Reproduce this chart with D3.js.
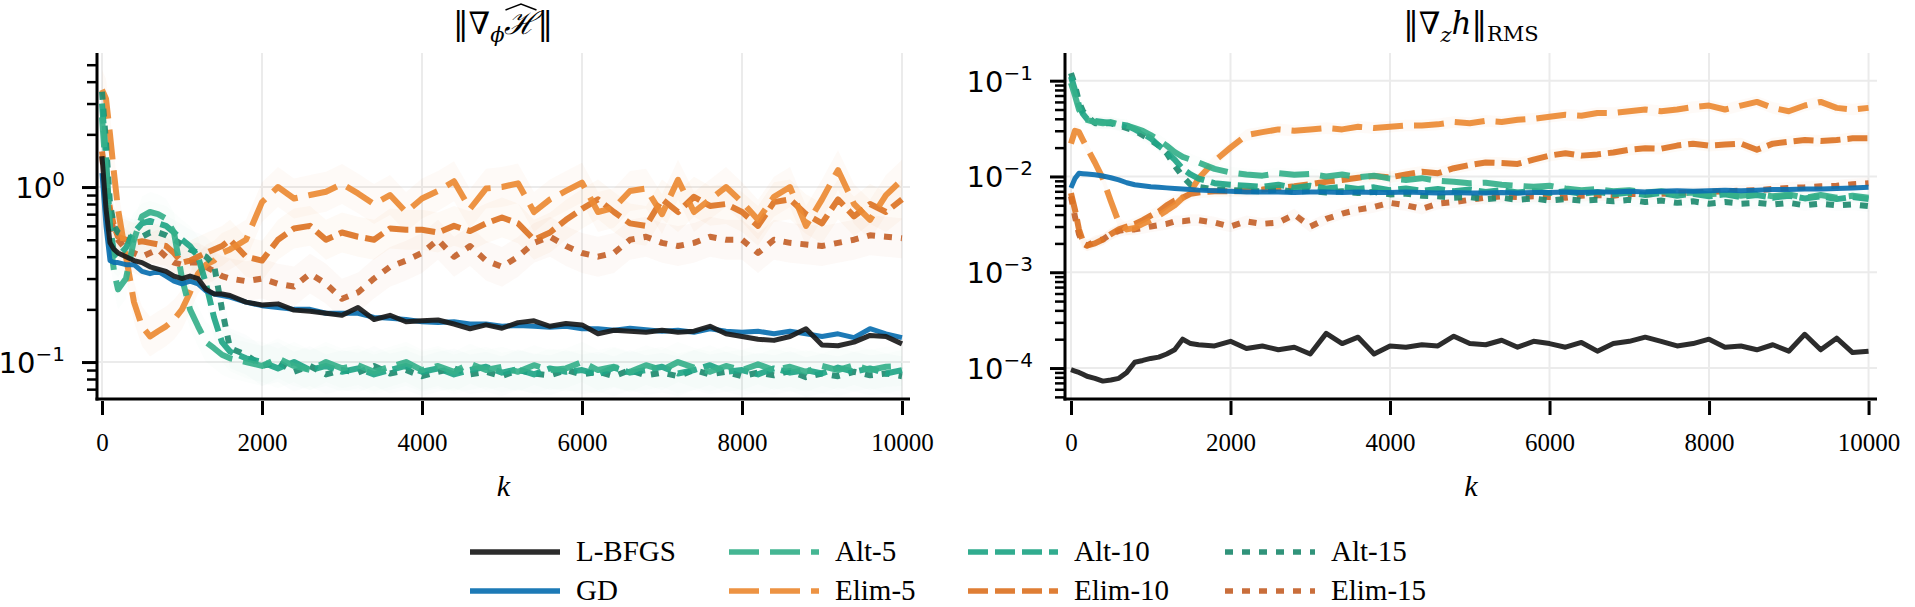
<!DOCTYPE html>
<html>
<head>
<meta charset="utf-8">
<script src="https://cdn.jsdelivr.net/npm/d3@7/dist/d3.min.js"></script>
<style>
  body { margin: 0; background: #fff; }
  svg { display: block; }
</style>
</head>
<body>
<svg id="chart" width="1915" height="607"></svg>
<script>
// iteration grid shared by every series
const iters = [0, 50, 100, 150, 200, 300, 400, 500, 600, 700, 800, 900, 1000, 1100, 1200, 1300, 1400, 1500, 1600,
  1800, 2000, 2200, 2400, 2600, 2800, 3000, 3200, 3400, 3600, 3800, 4000, 4200, 4400, 4600, 4800, 5000,
  5200, 5400, 5600, 5800, 6000, 6200, 6400, 6600, 6800, 7000, 7200, 7400, 7600, 7800, 8000, 8200, 8400,
  8600, 8800, 9000, 9200, 9400, 9600, 9800, 10000];

// left panel: ||grad_phi H||
const gradLbfgs = [1.5, 0.75, 0.48, 0.44, 0.42, 0.40, 0.38, 0.37, 0.35, 0.34, 0.33, 0.31, 0.30, 0.31, 0.30, 0.26, 0.245, 0.245, 0.24,
  0.22, 0.212, 0.215, 0.198, 0.195, 0.19, 0.185, 0.205, 0.175, 0.185, 0.17, 0.172, 0.174, 0.165, 0.155, 0.163, 0.156,
  0.168, 0.172, 0.16, 0.166, 0.163, 0.145, 0.152, 0.15, 0.148, 0.152, 0.148, 0.15, 0.16, 0.145, 0.14, 0.135, 0.133,
  0.14, 0.155, 0.125, 0.124, 0.13, 0.142, 0.14, 0.127];
const gradGd = [1.2, 0.6, 0.38, 0.37, 0.37, 0.36, 0.36, 0.33, 0.32, 0.33, 0.31, 0.29, 0.28, 0.29, 0.28, 0.255, 0.245, 0.24, 0.235,
  0.22, 0.21, 0.205, 0.2, 0.2, 0.19, 0.19, 0.19, 0.18, 0.178, 0.175, 0.17, 0.168, 0.17, 0.165, 0.165, 0.16,
  0.162, 0.16, 0.158, 0.16, 0.155, 0.155, 0.152, 0.156, 0.153, 0.15, 0.152, 0.148, 0.155, 0.15, 0.148, 0.15, 0.145,
  0.15, 0.145, 0.14, 0.145, 0.138, 0.155, 0.145, 0.138];
const gradAlt5 = [2.5, 1.2, 0.5, 0.33, 0.26, 0.3, 0.5, 0.68, 0.72, 0.7, 0.66, 0.55, 0.3, 0.2, 0.16, 0.13, 0.12, 0.11, 0.105,
  0.1, 0.095, 0.105, 0.095, 0.09, 0.1, 0.092, 0.096, 0.088, 0.094, 0.1, 0.09, 0.095, 0.088, 0.098, 0.09, 0.094,
  0.088, 0.096, 0.09, 0.092, 0.1, 0.09, 0.094, 0.088, 0.096, 0.09, 0.1, 0.093, 0.088, 0.095, 0.09, 0.097, 0.09,
  0.094, 0.088, 0.095, 0.09, 0.096, 0.09, 0.094, 0.095];
const gradAlt10 = [3.0, 1.5, 0.6, 0.42, 0.4, 0.45, 0.55, 0.62, 0.64, 0.62, 0.6, 0.55, 0.5, 0.46, 0.4, 0.28, 0.18, 0.13, 0.115,
  0.105, 0.1, 0.092, 0.1, 0.09, 0.095, 0.088, 0.092, 0.085, 0.09, 0.095, 0.088, 0.092, 0.085, 0.09, 0.094, 0.087,
  0.091, 0.085, 0.092, 0.088, 0.09, 0.085, 0.093, 0.087, 0.09, 0.094, 0.086, 0.09, 0.096, 0.088, 0.09, 0.085, 0.092,
  0.087, 0.09, 0.086, 0.093, 0.088, 0.092, 0.086, 0.09];
const gradAlt15 = [3.5, 1.8, 0.8, 0.6, 0.55, 0.52, 0.5, 0.52, 0.55, 0.55, 0.53, 0.5, 0.47, 0.44, 0.42, 0.4, 0.36, 0.2, 0.12,
  0.11, 0.095, 0.1, 0.088, 0.095, 0.085, 0.09, 0.087, 0.095, 0.086, 0.09, 0.083, 0.088, 0.092, 0.085, 0.088, 0.083,
  0.09, 0.086, 0.084, 0.09, 0.085, 0.088, 0.083, 0.09, 0.084, 0.087, 0.083, 0.09, 0.085, 0.088, 0.083, 0.087, 0.084,
  0.089, 0.082, 0.086, 0.083, 0.088, 0.084, 0.086, 0.083];
const gradElim5 = [3.6, 3.2, 2.0, 1.2, 0.75, 0.4, 0.22, 0.16, 0.14, 0.15, 0.16, 0.175, 0.2, 0.25, 0.32, 0.36, 0.38, 0.42, 0.44,
  0.5, 0.82, 1.0, 0.86, 0.9, 0.94, 1.04, 0.92, 0.8, 0.9, 0.72, 0.86, 0.95, 1.08, 0.75, 0.98, 1.0,
  1.05, 0.72, 0.85, 0.95, 1.06, 0.72, 0.76, 0.95, 0.98, 0.7, 1.1, 0.72, 0.85, 1.0, 0.82, 0.65, 0.88,
  1.0, 0.6, 0.85, 1.25, 0.8, 0.65, 0.9, 1.1];
const gradElim10 = [1.6, 1.1, 0.75, 0.6, 0.52, 0.5, 0.48, 0.49, 0.48, 0.47, 0.46, 0.42, 0.37, 0.38, 0.4, 0.42, 0.44, 0.46, 0.5,
  0.4, 0.38, 0.5, 0.58, 0.6, 0.5, 0.55, 0.52, 0.5, 0.58, 0.57, 0.57, 0.55, 0.6, 0.56, 0.62, 0.67,
  0.62, 0.5, 0.55, 0.65, 0.75, 0.85, 0.72, 0.62, 0.6, 0.85, 0.72, 0.88, 0.78, 0.8, 0.72, 0.6, 0.82,
  0.85, 0.7, 0.62, 0.85, 0.68, 0.8, 0.72, 0.85];
const gradElim15 = [1.5, 1.0, 0.7, 0.55, 0.5, 0.44, 0.42, 0.4, 0.42, 0.44, 0.4, 0.37, 0.36, 0.37, 0.37, 0.35, 0.33, 0.31, 0.3,
  0.29, 0.3, 0.28, 0.27, 0.32, 0.28, 0.23, 0.25, 0.3, 0.35, 0.38, 0.42, 0.5, 0.4, 0.46, 0.38, 0.35,
  0.4, 0.48, 0.52, 0.46, 0.42, 0.4, 0.42, 0.5, 0.52, 0.48, 0.46, 0.48, 0.52, 0.5, 0.5, 0.42, 0.5,
  0.48, 0.47, 0.46, 0.48, 0.5, 0.53, 0.52, 0.51];

// right panel: ||grad_z h||_RMS
const rmsLbfgs = [9.6e-5, 9.3e-5, 9.0e-5, 8.6e-5, 8.2e-5, 7.8e-5, 7.3e-5, 7.5e-5, 7.8e-5, 9.0e-5, 1.15e-4, 1.2e-4, 1.26e-4, 1.3e-4, 1.4e-4, 1.55e-4, 2.0e-4, 1.8e-4, 1.75e-4,
  1.7e-4, 1.9e-4, 1.6e-4, 1.7e-4, 1.55e-4, 1.65e-4, 1.4e-4, 2.3e-4, 1.8e-4, 2.1e-4, 1.4e-4, 1.7e-4, 1.65e-4, 1.75e-4, 1.7e-4, 2.15e-4, 1.8e-4,
  1.75e-4, 1.95e-4, 1.65e-4, 1.9e-4, 1.8e-4, 1.65e-4, 1.85e-4, 1.5e-4, 1.8e-4, 1.9e-4, 2.1e-4, 1.9e-4, 1.7e-4, 1.8e-4, 2.0e-4, 1.65e-4, 1.7e-4,
  1.55e-4, 1.75e-4, 1.5e-4, 2.25e-4, 1.55e-4, 2.05e-4, 1.45e-4, 1.5e-4];
const rmsGd = [0.0076, 0.0095, 0.0108, 0.0107, 0.0106, 0.0104, 0.0101, 0.0097, 0.0092, 0.0086, 0.0082, 0.008, 0.0078, 0.0077, 0.0076, 0.0075, 0.0074, 0.0073, 0.0072,
  0.0071, 0.007, 0.0069, 0.0069, 0.0069, 0.0068, 0.0069, 0.0069, 0.0068, 0.0069, 0.0068, 0.0068, 0.0069, 0.0068, 0.0067, 0.0068, 0.0067,
  0.0067, 0.0068, 0.0067, 0.0068, 0.0068, 0.0069, 0.0068, 0.0069, 0.0069, 0.007, 0.0069, 0.007, 0.0071, 0.007, 0.0071, 0.0072, 0.0071,
  0.0072, 0.0073, 0.0073, 0.0074, 0.0074, 0.0075, 0.0076, 0.0077];
const rmsAlt5 = [0.095, 0.07, 0.05, 0.042, 0.039, 0.037, 0.036, 0.037, 0.035, 0.034, 0.032, 0.03, 0.027, 0.024, 0.021, 0.018, 0.016, 0.015, 0.014,
  0.012, 0.011, 0.0105, 0.0102, 0.0108, 0.0104, 0.0106, 0.01, 0.0105, 0.0098, 0.0102, 0.0095, 0.0092, 0.0096, 0.009, 0.0088, 0.0085,
  0.0086, 0.0082, 0.008, 0.0078, 0.008, 0.0075, 0.0072, 0.0074, 0.007, 0.0072, 0.0068, 0.007, 0.0066, 0.0068, 0.0065, 0.0067, 0.0063,
  0.0066, 0.0062, 0.0065, 0.006, 0.0064, 0.006, 0.0063, 0.006];
const rmsAlt10 = [0.11, 0.08, 0.055, 0.045, 0.04, 0.038, 0.037, 0.036, 0.035, 0.034, 0.031, 0.028, 0.025, 0.021, 0.018, 0.015, 0.012, 0.0105, 0.0095,
  0.0085, 0.0082, 0.008, 0.0078, 0.0082, 0.0076, 0.008, 0.0075, 0.0078, 0.0074, 0.0077, 0.0072, 0.0075, 0.0071, 0.0074, 0.007, 0.0073,
  0.0069, 0.0072, 0.0068, 0.0071, 0.0067, 0.007, 0.0066, 0.0069, 0.0065, 0.0068, 0.0064, 0.0067, 0.0063, 0.0066, 0.0062, 0.0065, 0.0061,
  0.0064, 0.006, 0.0063, 0.0059, 0.0062, 0.0058, 0.0061, 0.0058];
const rmsAlt15 = [0.12, 0.09, 0.06, 0.048, 0.043, 0.036, 0.036, 0.036, 0.034, 0.032, 0.03, 0.027, 0.024, 0.021, 0.0175, 0.013, 0.01, 0.0082, 0.0078,
  0.0073, 0.0072, 0.0071, 0.007, 0.0073, 0.0069, 0.0071, 0.0068, 0.007, 0.0067, 0.0069, 0.0065, 0.0066, 0.0063, 0.0062, 0.006, 0.0061,
  0.0058, 0.006, 0.0057, 0.0059, 0.0056, 0.0058, 0.0056, 0.0057, 0.0055, 0.0057, 0.0054, 0.0056, 0.0053, 0.0055, 0.0052, 0.0054, 0.0052,
  0.0053, 0.0051, 0.0053, 0.005, 0.0052, 0.005, 0.0051, 0.0049];
const rmsElim5 = [0.022, 0.03, 0.029, 0.024, 0.02, 0.014, 0.0095, 0.0055, 0.0033, 0.0028, 0.0029, 0.0032, 0.0035, 0.0039, 0.0044, 0.005, 0.006, 0.007, 0.0095,
  0.0145, 0.02, 0.027, 0.029, 0.031, 0.03, 0.031, 0.032, 0.031, 0.033, 0.032, 0.033, 0.034, 0.034, 0.035, 0.037, 0.036,
  0.038, 0.037, 0.039, 0.04, 0.042, 0.044, 0.043, 0.046, 0.046, 0.048, 0.05, 0.048, 0.05, 0.053, 0.055, 0.05, 0.055,
  0.06, 0.052, 0.048, 0.055, 0.06, 0.052, 0.05, 0.052];
const rmsElim10 = [0.0067, 0.0045, 0.0028, 0.0021, 0.0019, 0.002, 0.0022, 0.0025, 0.0028, 0.003, 0.0032, 0.0035, 0.0039, 0.0043, 0.005, 0.0056, 0.006, 0.0066, 0.0068,
  0.007, 0.007, 0.0071, 0.0073, 0.0076, 0.0079, 0.0083, 0.0088, 0.0092, 0.0097, 0.0101, 0.0098, 0.0105, 0.0112, 0.0108, 0.0122, 0.0132,
  0.014, 0.0138, 0.0135, 0.015, 0.0165, 0.0175, 0.0165, 0.017, 0.0178, 0.019, 0.0197, 0.0195, 0.021, 0.022, 0.021, 0.0215, 0.022,
  0.019, 0.022, 0.023, 0.024, 0.0235, 0.024, 0.025, 0.025];
const rmsElim15 = [0.0062, 0.0038, 0.0025, 0.002, 0.0019, 0.0021, 0.0022, 0.0025, 0.0027, 0.0028, 0.0028, 0.0029, 0.003, 0.0031, 0.0032, 0.0034, 0.0034, 0.0035, 0.0035,
  0.0033, 0.003, 0.0034, 0.0032, 0.0033, 0.004, 0.003, 0.0036, 0.0041, 0.0045, 0.0048, 0.0053, 0.005, 0.0046, 0.0052, 0.0054, 0.0057,
  0.006, 0.0062, 0.0061, 0.0062, 0.0061, 0.006, 0.0063, 0.0064, 0.0063, 0.0066, 0.0065, 0.0066, 0.0067, 0.0068, 0.0069, 0.007, 0.0071,
  0.0072, 0.0074, 0.0076, 0.0077, 0.0079, 0.008, 0.0083, 0.0085];

const xTicks = [0, 2000, 4000, 6000, 8000, 10000];
const gradTicks = [-1, 0];          // exponents of the major ticks
const rmsTicks = [-4, -3, -2, -1];

// series drawn back to front
var series = [
    {name: 'Elim-15', color: '#c4622a', dash: '8,9', band: 0.04, grad: gradElim15, rms: rmsElim15},
    {name: 'Elim-10', color: '#dc7324', dash: '20,7', band: 0.04, grad: gradElim10, rms: rmsElim10},
    {name: 'Elim-5', color: '#eb8a33', dash: '30,11', band: 0.04, grad: gradElim5, rms: rmsElim5},
    {name: 'Alt-15', color: '#1e8a6f', dash: '8,9', band: 0.015, grad: gradAlt15, rms: rmsAlt15},
    {name: 'Alt-10', color: '#20a585', dash: '20,7', band: 0.015, grad: gradAlt10, rms: rmsAlt10},
    {name: 'Alt-5', color: '#35b08a', dash: '30,11', band: 0.015, grad: gradAlt5, rms: rmsAlt5},
    {name: 'GD', color: '#0a6fb0', dash: null, band: 0, grad: gradGd, rms: rmsGd},
    {name: 'L-BFGS', color: '#1a1a1a', dash: null, band: 0, grad: gradLbfgs, rms: rmsLbfgs}
];
var bandSpread = {grad: 1.3, rms: 1.15};

var panels = [
    {key: 'grad', left: 97, right: 910, xDom: [-62.5, 10100], yDom: [5.833, 0.0615], majors: gradTicks, labelX: 65},
    {key: 'rms', left: 1065, right: 1877, xDom: [-75, 10106], yDom: [0.1945, 4.75e-5], majors: rmsTicks, labelX: 1033}
];
var plotTop = 53, plotBottom = 399;

var svg = d3.select('#chart');

panels.forEach(function (p) {
    var x = d3.scaleLinear().domain(p.xDom).range([p.left, p.right]);
    var y = d3.scaleLog().domain(p.yDom).range([plotTop, plotBottom]);
    var g = svg.append('g');

    var clipId = 'clip-' + p.key;
    svg.append('clipPath').attr('id', clipId)
        .append('rect')
        .attr('x', p.left).attr('y', plotTop)
        .attr('width', p.right - p.left).attr('height', plotBottom - plotTop);

    // grid
    g.selectAll('.vgrid').data(xTicks).enter().append('line')
        .attr('x1', d => x(d)).attr('x2', d => x(d))
        .attr('y1', plotTop).attr('y2', plotBottom)
        .attr('stroke', '#ebebeb').attr('stroke-width', 2);
    g.selectAll('.hgrid').data(p.majors).enter().append('line')
        .attr('x1', p.left).attr('x2', p.right)
        .attr('y1', d => y(Math.pow(10, d))).attr('y2', d => y(Math.pow(10, d)))
        .attr('stroke', '#ebebeb').attr('stroke-width', 2);

    var plot = g.append('g').attr('clip-path', 'url(#' + clipId + ')');

    // faint spread bands
    var band = d3.area()
        .x((d, i) => x(iters[i]))
        .y0(d => y(d / bandSpread[p.key]))
        .y1(d => y(d * bandSpread[p.key]));
    series.filter(s => s.band > 0).forEach(function (s) {
        plot.append('path')
            .attr('d', band(s[p.key]))
            .attr('fill', s.color)
            .attr('fill-opacity', s.band);
    });

    var line = d3.line()
        .x((d, i) => x(iters[i]))
        .y(d => y(d));
    series.forEach(function (s) {
        plot.append('path')
            .attr('d', line(s[p.key]))
            .attr('fill', 'none')
            .attr('stroke', s.color)
            .attr('stroke-width', s.dash ? 6 : 5)
            .attr('stroke-opacity', 0.92)
            .attr('stroke-dasharray', s.dash)
            .attr('stroke-linejoin', 'round');
    });

    // x axis
    var xAxis = g.append('g')
        .attr('transform', 'translate(0,' + (plotBottom + 2) + ')')
        .call(d3.axisBottom(x).tickValues(xTicks).tickSize(14).tickPadding(18).tickFormat(d3.format('d')));
    xAxis.select('.domain').remove();
    xAxis.selectAll('.tick line').attr('stroke', '#000').attr('stroke-width', 3);
    xAxis.selectAll('.tick text')
        .attr('font-family', 'Liberation Serif, serif')
        .attr('font-size', 25).attr('fill', '#000');

    // y axis: major and minor ticks
    var minors = [];
    var lo = Math.floor(Math.log10(p.yDom[1])), hi = Math.ceil(Math.log10(p.yDom[0]));
    for (var e = lo; e < hi; e++) {
        for (var m = 2; m <= 9; m++) {
            var v = m * Math.pow(10, e);
            if (v <= p.yDom[0] && v >= p.yDom[1]) minors.push(v);
        }
    }
    var yMinor = g.append('g')
        .attr('transform', 'translate(' + p.left + ',0)')
        .call(d3.axisLeft(y).tickValues(minors).tickSize(10).tickFormat(''));
    yMinor.select('.domain').remove();
    yMinor.selectAll('.tick line').attr('stroke', '#000').attr('stroke-width', 2.5);

    var yMajor = g.append('g')
        .attr('transform', 'translate(' + p.left + ',0)')
        .call(d3.axisLeft(y).tickValues(p.majors.map(d => Math.pow(10, d))).tickSize(15).tickFormat(''));
    yMajor.select('.domain').remove();
    yMajor.selectAll('.tick line').attr('stroke', '#000').attr('stroke-width', 3);

    p.majors.forEach(function (ex) {
        var t = g.append('text')
            .attr('x', p.labelX)
            .attr('y', y(Math.pow(10, ex)) + 11)
            .attr('text-anchor', 'end')
            .attr('font-family', 'DejaVu Sans, sans-serif')
            .attr('font-size', 29);
        t.append('tspan').text('10');
        t.append('tspan').attr('font-size', 20).attr('dy', -12).text(ex < 0 ? '\u2212' + (-ex) : ex);
    });

    // spines
    g.append('line').attr('x1', p.left).attr('x2', p.left).attr('y1', plotTop).attr('y2', plotBottom + 1.5)
        .attr('stroke', '#000').attr('stroke-width', 3);
    g.append('line').attr('x1', p.left - 1.5).attr('x2', p.right).attr('y1', plotBottom).attr('y2', plotBottom)
        .attr('stroke', '#000').attr('stroke-width', 3);

    // x label
    g.append('text')
        .attr('x', (p.left + p.right) / 2)
        .attr('y', 496)
        .attr('text-anchor', 'middle')
        .attr('font-family', 'Liberation Serif, serif')
        .attr('font-style', 'italic')
        .attr('font-size', 30)
        .text('k');
});

// titles
var t1 = svg.append('text')
    .attr('x', 503).attr('y', 34)
    .attr('text-anchor', 'middle')
    .attr('font-family', 'DejaVu Serif, serif')
    .attr('font-size', 31);
t1.append('tspan').text('\u2016\u2207');
t1.append('tspan').attr('font-size', 21).attr('font-style', 'italic').attr('dy', 8).text('\u03d5');
t1.append('tspan').attr('dy', -8).attr('font-style', 'italic').text('\u210b');
t1.append('tspan').text('\u2016');
// wide hat over the script H
var hBox = t1.node().getExtentOfChar(3);
svg.append('path')
    .attr('d', 'M' + (hBox.x + 1) + ',' + (hBox.y + 5) + 'L' + (hBox.x + hBox.width / 2) + ',' + (hBox.y - 1) +
        'L' + (hBox.x + hBox.width - 1) + ',' + (hBox.y + 5))
    .attr('fill', 'none').attr('stroke', '#000').attr('stroke-width', 1.4);

var t2 = svg.append('text')
    .attr('x', 1471).attr('y', 34)
    .attr('text-anchor', 'middle')
    .attr('font-family', 'DejaVu Serif, serif')
    .attr('font-size', 31);
t2.append('tspan').text('\u2016\u2207');
t2.append('tspan').attr('font-size', 21).attr('font-style', 'italic').attr('dy', 8).text('z');
t2.append('tspan').attr('dy', -8).attr('font-style', 'italic').text('h');
t2.append('tspan').text('\u2016');
t2.append('tspan').attr('font-size', 21).attr('dy', 7).text('RMS');

// legend, two rows in column-major order
var legendItems = ['L-BFGS', 'GD', 'Alt-5', 'Elim-5', 'Alt-10', 'Elim-10', 'Alt-15', 'Elim-15'];
var colX = [470, 729, 968, 1225];
var rowY = [552, 591];
var legend = svg.append('g');
legendItems.forEach(function (name, i) {
    var s = series.find(d => d.name === name);
    var cx = colX[Math.floor(i / 2)], cy = rowY[i % 2];
    legend.append('line')
        .attr('x1', cx).attr('x2', cx + 90)
        .attr('y1', cy).attr('y2', cy)
        .attr('stroke', s.color)
        .attr('stroke-width', 5.5)
        .attr('stroke-opacity', 0.92)
        .attr('stroke-dasharray', s.dash);
    legend.append('text')
        .attr('x', cx + 106).attr('y', cy + 9)
        .attr('font-family', 'Liberation Serif, serif')
        .attr('font-size', 29)
        .text(name);
});
</script>
</body>
</html>
